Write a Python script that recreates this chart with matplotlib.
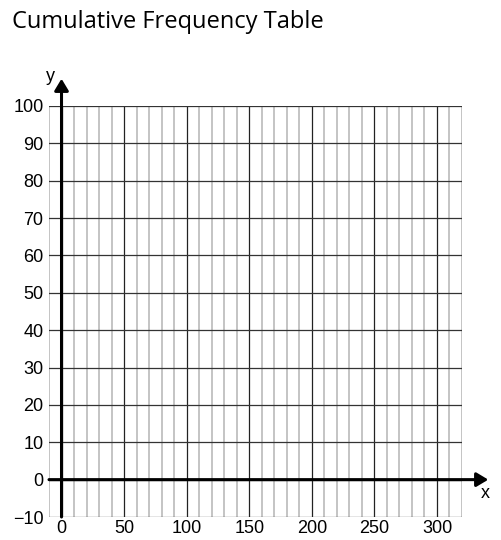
import numpy as np
import matplotlib.pyplot as plt

# ============ DADOS ============
x_ticks = [0, 50, 100, 150, 200, 250, 300]
y_ticks = [-10, 0, 10, 20, 30, 40, 50, 60, 70, 80, 90, 100]
x_minor = list(range(-10, 330, 10))
x_lim = (-10, 320)
y_lim = (-10, 100)
title = 'Cumulative Frequency Table'

# ============ FIGURA ============
fig = plt.figure(figsize=(5.01, 5.40), dpi=100)
ax = fig.add_axes([49/501, 1 - 517/540, 413/501, 411/540])
ax.set_xlim(*x_lim)
ax.set_ylim(*y_lim)

# grade vertical: fina cinza a cada 10, preta a cada 50
for xv in x_minor:
    if xv in x_ticks:
        ax.axvline(xv, color='#222222', lw=0.9, zorder=2)
    else:
        ax.axvline(xv, color='#c4c4c4', lw=1.4, zorder=1)

# grade horizontal a cada 10
for yv in y_ticks:
    ax.axhline(yv, color='#333333', lw=0.9, zorder=2)

for s in ax.spines.values():
    s.set_visible(False)

ax.set_xticks(x_ticks)
ax.set_yticks(y_ticks)
ax.tick_params(length=0, labelsize=13)
ax.tick_params(axis='y', pad=4)
ax.tick_params(axis='x', pad=2)
for lab in ax.get_xticklabels() + ax.get_yticklabels():
    lab.set_fontfamily('Liberation Sans')

# eixos com setas
arrow = dict(arrowstyle='-|>,head_length=0.7,head_width=0.42', lw=2.2,
             color='black', shrinkA=0, shrinkB=0, mutation_scale=10)
ax.annotate('', xy=(0, 107.3), xytext=(0, -10), arrowprops=arrow,
            annotation_clip=False, zorder=5)
ax.annotate('', xy=(341, 0), xytext=(-10, 0), arrowprops=arrow,
            annotation_clip=False, zorder=5)

ax.text(-5, 108, 'y', fontsize=13, family='Liberation Sans', ha='right', va='center')
ax.text(339, -3.8, 'x', fontsize=13, family='Liberation Sans', ha='center', va='center')

fig.text(12/501, 1 - 10/540, title, fontsize=17, family='Open Sans',
         ha='left', va='top')

fig.savefig('out.png', dpi=100)
